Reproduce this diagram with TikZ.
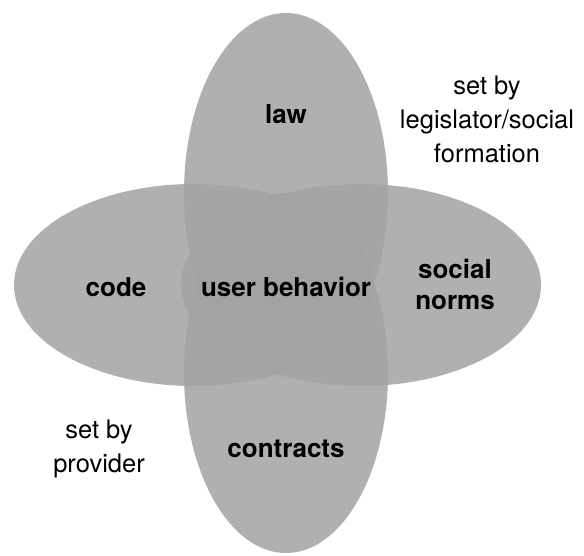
\documentclass[tikz,border=0pt]{standalone}
\usepackage{fontspec}
\setmainfont{TeX Gyre Heros}
\usetikzlibrary{positioning}

\begin{document}
\begin{tikzpicture}[x=1pt,y=-1pt]
\tikzstyle{petal}=[fill=black!36, fill opacity=0.86]
\tikzstyle{force}=[inner sep=0pt, align=center, font=\fontsize{26}{31}\selectfont\bfseries]
\tikzstyle{note}=[inner sep=0pt, align=center, font=\fontsize{25.5}{34}\selectfont]

\useasboundingbox (0,0) rectangle (584,555);

% the four constraints
\fill[petal] (286,193) ellipse [x radius=102, y radius=180];
\fill[petal] (286,373) ellipse [x radius=102, y radius=180];
\fill[petal] (194,285) ellipse [x radius=180, y radius=101];
\fill[petal] (361,285) ellipse [x radius=180, y radius=101];

\node[force] (L) at (286,114) {law};
\node[force] (C) at (116,287) {code};
\node[force] (U) at (286,287) {user behavior};
\node[force] (N) at (455,284) {social\\norms};
\node[force] (K) at (286,448.5) {contracts};
%\node (O) at (286,285) {};
\node[note] (SL) at (487,119) {set by\\legislator/social\\formation};
\node[note] (SP) at (99,449) {set by\\provider};
\end{tikzpicture}
\end{document}
